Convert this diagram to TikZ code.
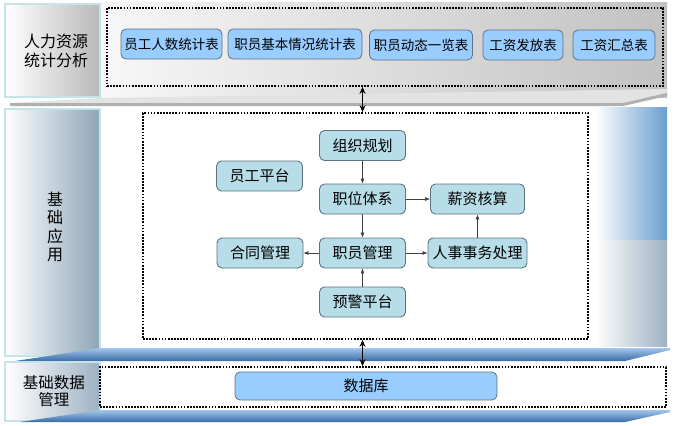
\documentclass[tikz,border=0pt]{standalone}
\usepackage{fontspec}
\setmainfont{Noto Sans CJK SC}
\usetikzlibrary{arrows.meta}
\definecolor{tabblue}{HTML}{99CCFF}
\definecolor{unitteal}{HTML}{B7DDE8}
\definecolor{rimgray}{HTML}{5E7480}
\definecolor{panelrim}{HTML}{C4E4E9}
\definecolor{slate}{HTML}{8DA5B8}
\definecolor{slatelight}{HTML}{9DB1C2}
\definecolor{plankdark}{HTML}{3A6CA8}
\definecolor{planklight}{HTML}{A3C6EA}
\definecolor{skyblue}{HTML}{6A9ECF}
\tikzset{
    every node/.style={inner sep=0pt, font=\fontsize{15}{18}\selectfont}
}
\tikzset{
    tab/.style={draw=rimgray, fill=tabblue, rounded corners=5pt, line width=0.8pt,
    	minimum height=30pt, font=\fontsize{13.5}{16}\selectfont},
    unit/.style={draw=rimgray, fill=unitteal, rounded corners=5pt, line width=0.9pt,
    	minimum width=86pt, minimum height=30pt},
    area/.style={draw, line width=1.7pt, dash pattern=on 1.7pt off 1.4pt},
    sidepanel/.style={draw=panelrim, line width=1.6pt},
    link/.style={-{Latex[length=5pt,width=4pt]}, draw=black!75, line width=0.6pt},
    bigarrow/.style={{Stealth[length=7pt,width=6pt]}-{Stealth[length=7pt,width=6pt]},
    	line width=1.6pt}
}

\begin{document}
\begin{tikzpicture}[x=1pt, y=-1pt]
	\useasboundingbox (0,0) rectangle (678,426);

	\shade[left color=gray!6, right color=gray!48] (100,2) rectangle (667,97);
	\shade[left color=white, right color=gray!55] (5,4) rectangle (100,97);
	\draw[sidepanel] (5,4) rectangle (100,97);
	\fill[gray!22] (10,103) -- (100,98) -- (667,89) -- (667,93) -- (623,103) -- cycle;
	\fill[gray!62] (10,103) -- (623,103) -- (667,93) -- (667,96) -- (623,106) -- (10,106) -- cycle;

	\shade[left color=white, right color=skyblue] (595,107) rectangle (667,240);
	\shade[left color=white, right color=slatelight] (595,240) rectangle (667,346);
	\shade[left color=white, right color=slate] (5,109) rectangle (100,356);
	\draw[sidepanel] (5,109) rectangle (100,356);
	\shade[top color=planklight, bottom color=plankdark]
		(15,361) -- (100,348) -- (670,348) -- (670,350) -- (625,361) -- cycle;

	\shade[left color=white, right color=slatelight] (5,362) rectangle (100,421);
	\draw[sidepanel] (5,362) rectangle (100,421);
	\shade[top color=planklight, bottom color=plankdark]
		(20,422) -- (100,410) -- (670,410) -- (670,412) -- (625,422) -- cycle;

	\node (hrlab) [align=center, font=\fontsize{16}{19}\selectfont] at (56,51) {人力资源\\统计分析};
	\node (applab) [align=center, font=\fontsize{16}{18.5}\selectfont] at (55,227) {基\\础\\应\\用};
	\node (datalab) [align=center, font=\fontsize{15.5}{17}\selectfont] at (54,391) {基础数据\\管理};

	\node (top) [area, minimum width=556pt, minimum height=78pt] at (385,47) {};
	\node (mid) [area, minimum width=445pt, minimum height=226pt] at (365.5,226) {};
	\node (db) [area, minimum width=566pt, minimum height=40pt] at (383,387) {};

	\node (t1) [tab, minimum width=101pt] at (171.5,44) {员工人数统计表};
	\node (t2) [tab, minimum width=134pt] at (295,44) {职员基本情况统计表};
	\node (t3) [tab, minimum width=103pt] at (421,45) {职员动态一览表};
	\node (t4) [tab, minimum width=80pt] at (523,45) {工资发放表};
	\node (t5) [tab, minimum width=82pt] at (614,45) {工资汇总表};

	\node (org) [unit] at (362.5,145.5) {组织规划};
	\node (self) [unit] at (259.5,176) {员工平台};
	\node (pos) [unit] at (362.5,199) {职位体系};
	\node (pay) [unit, minimum width=94pt] at (477.5,199) {薪资核算};
	\node (contract) [unit] at (260,253) {合同管理};
	\node (staff) [unit] at (362.5,253) {职员管理};
	\node (affair) [unit, minimum width=99pt] at (477.5,253) {人事事务处理};
	\node (alert) [unit] at (362.5,302) {预警平台};

	\node (store) [tab, minimum width=262pt, minimum height=28pt, font=\fontsize{15}{18}\selectfont]
		at (366,386) {数据库};

	\draw (org) edge [link] (pos); \draw (pos) edge [link] (staff);
	\draw (pos) edge [link] (pay); \draw (staff) edge [link] (contract);
	\draw (staff) edge [link] (affair); \draw (affair) edge [link] (pay);
	\draw (alert) edge [link] (staff);

	\draw[bigarrow] (top.south -| org) -- (mid.north -| org);
	\draw[bigarrow] (mid.south -| org) -- (db.north -| org);
\end{tikzpicture}
\end{document}
